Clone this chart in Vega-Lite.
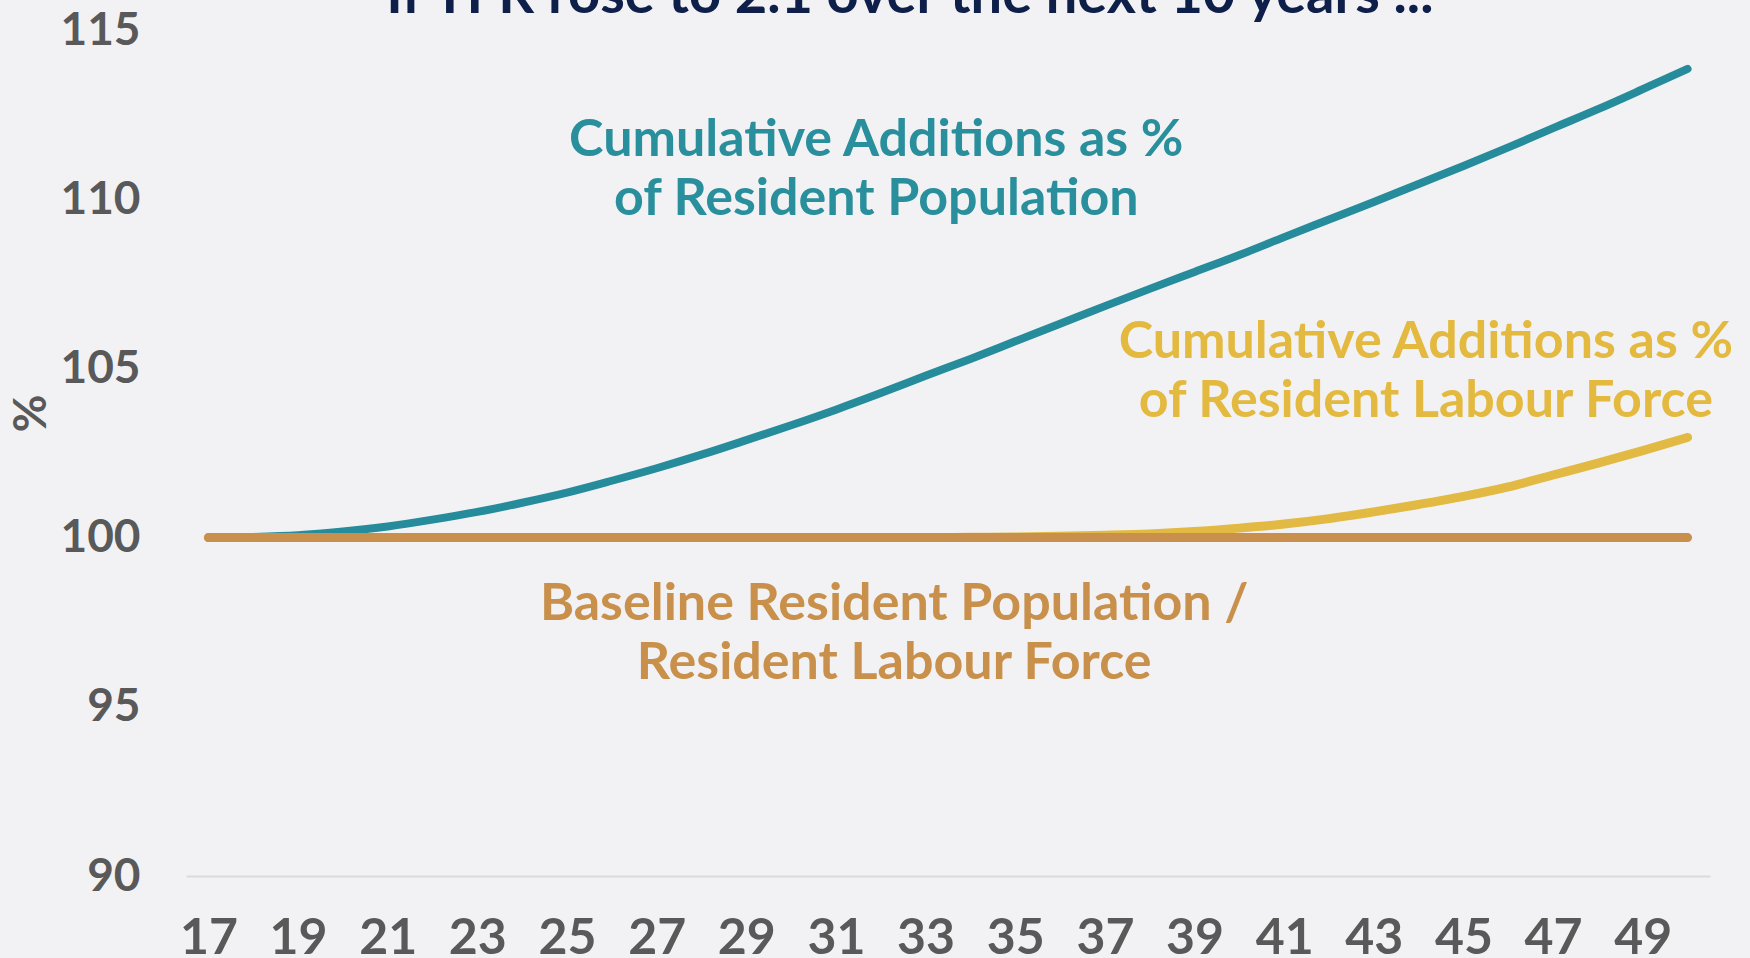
{
  "$schema": "https://vega.github.io/schema/vega-lite/v6.json",
  "autosize": "none",
  "width": 1524,
  "height": 846,
  "padding": {"left": 186, "top": 30, "right": 40, "bottom": 82},
  "background": "#f2f2f4",
  "config": {"view": {"stroke": null}},
  "datasets": {
    "series": [
      {"year": 17, "series": "Population", "value": 100.00},
      {"year": 18, "series": "Population", "value": 100.02},
      {"year": 19, "series": "Population", "value": 100.07},
      {"year": 20, "series": "Population", "value": 100.18},
      {"year": 21, "series": "Population", "value": 100.33},
      {"year": 22, "series": "Population", "value": 100.53},
      {"year": 23, "series": "Population", "value": 100.76},
      {"year": 24, "series": "Population", "value": 101.03},
      {"year": 25, "series": "Population", "value": 101.33},
      {"year": 26, "series": "Population", "value": 101.68},
      {"year": 27, "series": "Population", "value": 102.05},
      {"year": 28, "series": "Population", "value": 102.45},
      {"year": 29, "series": "Population", "value": 102.88},
      {"year": 30, "series": "Population", "value": 103.32},
      {"year": 31, "series": "Population", "value": 103.78},
      {"year": 32, "series": "Population", "value": 104.27},
      {"year": 33, "series": "Population", "value": 104.78},
      {"year": 34, "series": "Population", "value": 105.28},
      {"year": 35, "series": "Population", "value": 105.80},
      {"year": 36, "series": "Population", "value": 106.32},
      {"year": 37, "series": "Population", "value": 106.84},
      {"year": 38, "series": "Population", "value": 107.35},
      {"year": 39, "series": "Population", "value": 107.85},
      {"year": 40, "series": "Population", "value": 108.35},
      {"year": 41, "series": "Population", "value": 108.88},
      {"year": 42, "series": "Population", "value": 109.40},
      {"year": 43, "series": "Population", "value": 109.92},
      {"year": 44, "series": "Population", "value": 110.45},
      {"year": 45, "series": "Population", "value": 110.98},
      {"year": 46, "series": "Population", "value": 111.53},
      {"year": 47, "series": "Population", "value": 112.10},
      {"year": 48, "series": "Population", "value": 112.66},
      {"year": 49, "series": "Population", "value": 113.25},
      {"year": 50, "series": "Population", "value": 113.85},
      {"year": 17, "series": "Labour", "value": 100.00},
      {"year": 18, "series": "Labour", "value": 100.00},
      {"year": 19, "series": "Labour", "value": 100.00},
      {"year": 20, "series": "Labour", "value": 100.00},
      {"year": 21, "series": "Labour", "value": 100.00},
      {"year": 22, "series": "Labour", "value": 100.00},
      {"year": 23, "series": "Labour", "value": 100.00},
      {"year": 24, "series": "Labour", "value": 100.00},
      {"year": 25, "series": "Labour", "value": 100.00},
      {"year": 26, "series": "Labour", "value": 100.00},
      {"year": 27, "series": "Labour", "value": 100.00},
      {"year": 28, "series": "Labour", "value": 100.00},
      {"year": 29, "series": "Labour", "value": 100.00},
      {"year": 30, "series": "Labour", "value": 100.00},
      {"year": 31, "series": "Labour", "value": 100.00},
      {"year": 32, "series": "Labour", "value": 100.00},
      {"year": 33, "series": "Labour", "value": 100.00},
      {"year": 34, "series": "Labour", "value": 100.01},
      {"year": 35, "series": "Labour", "value": 100.02},
      {"year": 36, "series": "Labour", "value": 100.04},
      {"year": 37, "series": "Labour", "value": 100.07},
      {"year": 38, "series": "Labour", "value": 100.11},
      {"year": 39, "series": "Labour", "value": 100.18},
      {"year": 40, "series": "Labour", "value": 100.28},
      {"year": 41, "series": "Labour", "value": 100.40},
      {"year": 42, "series": "Labour", "value": 100.56},
      {"year": 43, "series": "Labour", "value": 100.76},
      {"year": 44, "series": "Labour", "value": 100.98},
      {"year": 45, "series": "Labour", "value": 101.22},
      {"year": 46, "series": "Labour", "value": 101.50},
      {"year": 47, "series": "Labour", "value": 101.85},
      {"year": 48, "series": "Labour", "value": 102.20},
      {"year": 49, "series": "Labour", "value": 102.57},
      {"year": 50, "series": "Labour", "value": 102.96},
      {"year": 17, "series": "Baseline", "value": 100},
      {"year": 20, "series": "Baseline", "value": 100},
      {"year": 25, "series": "Baseline", "value": 100},
      {"year": 30, "series": "Baseline", "value": 100},
      {"year": 35, "series": "Baseline", "value": 100},
      {"year": 40, "series": "Baseline", "value": 100},
      {"year": 45, "series": "Baseline", "value": 100},
      {"year": 50, "series": "Baseline", "value": 100}
    ],
    "notes": [
      {"note": "title", "line1": "If TFR rose to 2.1 over the next 10 years ...", "line2": ""},
      {"note": "population", "line1": "Cumulative Additions as %", "line2": "of Resident Population"},
      {"note": "labour", "line1": "Cumulative Additions as %", "line2": "of Resident Labour Force"},
      {"note": "baseline", "line1": "Baseline Resident Population /", "line2": "Resident Labour Force"}
    ]
  },
  "resolve": {"scale": {"x": "shared", "y": "shared"}},
  "layer": [
    {
      "data": {"name": "series"},
      "transform": [{"filter": "datum.series === 'Population'"}],
      "mark": {"type": "line", "color": "#268c9c", "strokeWidth": 8, "strokeCap": "round", "interpolate": "monotone"},
      "encoding": {
        "x": {
          "field": "year", "type": "quantitative",
          "scale": {"domain": [16.5, 50.5], "nice": false, "zero": false},
          "axis": {
            "values": [17, 19, 21, 23, 25, 27, 29, 31, 33, 35, 37, 39, 41, 43, 45, 47, 49],
            "format": "d", "title": null, "grid": false, "ticks": false,
            "domain": true, "domainColor": "#dadadc", "domainWidth": 2,
            "labelFont": "Lato", "labelFontWeight": "bold", "labelFontSize": 50,
            "labelColor": "#595959", "labelPadding": 37, "labelBaseline": "top"
          }
        },
        "y": {
          "field": "value", "type": "quantitative",
          "scale": {"domain": [90, 115], "nice": false, "zero": false},
          "axis": {
            "values": [90, 95, 100, 105, 110, 115],
            "grid": false, "ticks": false, "domain": false,
            "labelFont": "Lato", "labelFontWeight": "bold", "labelFontSize": 46,
            "labelColor": "#595959", "labelPadding": 46,
            "title": "%", "titleFont": "Lato", "titleFontWeight": "bold", "titleFontSize": 46,
            "titleColor": "#595959", "titleAngle": -90, "titleX": -155, "titleY": 383,
            "titleAlign": "center", "titleBaseline": "middle"
          }
        }
      }
    },
    {
      "data": {"name": "series"},
      "transform": [{"filter": "datum.series === 'Labour'"}],
      "mark": {"type": "line", "color": "#e2b942", "strokeWidth": 9, "strokeCap": "round", "interpolate": "monotone"},
      "encoding": {
        "x": {"field": "year", "type": "quantitative"},
        "y": {"field": "value", "type": "quantitative"}
      }
    },
    {
      "data": {"name": "series"},
      "transform": [{"filter": "datum.series === 'Baseline'"}],
      "mark": {"type": "line", "color": "#c8904c", "strokeWidth": 9, "strokeCap": "round"},
      "encoding": {
        "x": {"field": "year", "type": "quantitative"},
        "y": {"field": "value", "type": "quantitative"}
      }
    },
    {
      "data": {"name": "notes"},
      "transform": [{"filter": "datum.note === 'title'"}],
      "mark": {"type": "text", "font": "Lato", "fontWeight": "bold", "fontSize": 56, "color": "#0e1f49", "align": "center", "baseline": "alphabetic", "clip": false},
      "encoding": {"x": {"datum": 32.65}, "y": {"datum": 115.5}, "text": {"field": "line1"}}
    },
    {
      "data": {"name": "notes"},
      "transform": [{"filter": "datum.note === 'population'"}],
      "mark": {"type": "text", "font": "Lato", "fontWeight": "bold", "fontSize": 52, "color": "#2a8f9c", "align": "center", "baseline": "middle"},
      "encoding": {"x": {"datum": 31.9}, "y": {"datum": 111.74}, "text": {"field": "line1"}}
    },
    {
      "data": {"name": "notes"},
      "transform": [{"filter": "datum.note === 'population'"}],
      "mark": {"type": "text", "font": "Lato", "fontWeight": "bold", "fontSize": 52, "color": "#2a8f9c", "align": "center", "baseline": "middle"},
      "encoding": {"x": {"datum": 31.9}, "y": {"datum": 110.0}, "text": {"field": "line2"}}
    },
    {
      "data": {"name": "notes"},
      "transform": [{"filter": "datum.note === 'labour'"}],
      "mark": {"type": "text", "font": "Lato", "fontWeight": "bold", "fontSize": 52, "color": "#e3b93f", "align": "center", "baseline": "middle"},
      "encoding": {"x": {"datum": 44.16}, "y": {"datum": 105.77}, "text": {"field": "line1"}}
    },
    {
      "data": {"name": "notes"},
      "transform": [{"filter": "datum.note === 'labour'"}],
      "mark": {"type": "text", "font": "Lato", "fontWeight": "bold", "fontSize": 52, "color": "#e3b93f", "align": "center", "baseline": "middle"},
      "encoding": {"x": {"datum": 44.16}, "y": {"datum": 104.05}, "text": {"field": "line2"}}
    },
    {
      "data": {"name": "notes"},
      "transform": [{"filter": "datum.note === 'baseline'"}],
      "mark": {"type": "text", "font": "Lato", "fontWeight": "bold", "fontSize": 52, "color": "#c8904a", "align": "center", "baseline": "middle"},
      "encoding": {"x": {"datum": 32.3}, "y": {"datum": 98.04}, "text": {"field": "line1"}}
    },
    {
      "data": {"name": "notes"},
      "transform": [{"filter": "datum.note === 'baseline'"}],
      "mark": {"type": "text", "font": "Lato", "fontWeight": "bold", "fontSize": 52, "color": "#c8904a", "align": "center", "baseline": "middle"},
      "encoding": {"x": {"datum": 32.3}, "y": {"datum": 96.3}, "text": {"field": "line2"}}
    }
  ]
}
